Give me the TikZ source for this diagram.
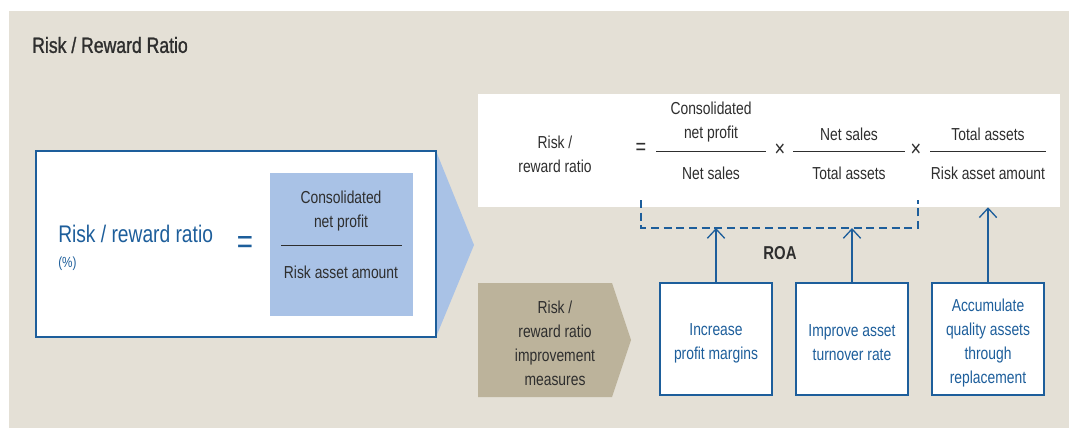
\documentclass[tikz,border=0pt]{standalone}
\usepackage{fontspec}
\setmainfont{Liberation Sans}[FakeStretch=0.8]
\usepackage{tikz}
\usetikzlibrary{arrows.meta}
\definecolor{bgbeige}{HTML}{E4E0D6}
\definecolor{ratioblue}{HTML}{1D5E9B}
\definecolor{paleblue}{HTML}{A9C2E6}
\definecolor{khaki}{HTML}{BCB39B}
\definecolor{inkgray}{HTML}{2E2E2E}
\tikzset{
	txt/.style={text=inkgray, font=\fontsize{13}{18}\selectfont, align=center, inner sep=0pt},
	bluetxt/.style={txt, text=ratioblue},
	measure/.style={draw=ratioblue, line width=1.2pt, fill=white, minimum width=84pt, minimum height=84pt},
	fracline/.style={inkgray, line width=0.7pt},
	opsign/.style={txt, font=\fontsize{17}{18}\selectfont},
	uparrow/.style={ratioblue, line width=1pt, -{Straight Barb[width=13pt,length=7pt]}}
}
\begin{document}
\begin{tikzpicture}[x=0.75pt,y=-0.75pt]
			\useasboundingbox (0,0) rectangle (1069,428);
			\fill[bgbeige] (9,11) rectangle (1069,428);
			\node[txt, anchor=west, font=\addfontfeature{FakeBold=1.2}\fontsize{16.5}{20}\selectfont] (title) at (32,45) {Risk / Reward Ratio};
			% left formula box with pointer
			\fill[paleblue] (420,151) -- (436,151) -- (474,245) -- (436,337) -- (420,337) -- cycle;
			\draw[ratioblue, line width=1.5pt, fill=white] (36,151) rectangle (436,337);
			\fill[paleblue] (270,173) rectangle (413,316);
			\node[bluetxt, anchor=west, font=\fontsize{18}{20}\selectfont] (lhs) at (58,234) {Risk / reward ratio};
			\node[bluetxt, anchor=west, font=\fontsize{11}{12}\selectfont] (pct) at (58,264) {(\%)};
			\node[bluetxt, font=\fontsize{26}{26}\selectfont] (eqleft) at (245,245) {=};
			\node[txt] (numleft) at (341,211) {Consolidated\\net profit};
			\node[txt] (denleft) at (341,272) {Risk asset amount};
			\draw[fracline] (281,245) -- (402,245);
			% decomposition
			\node[fill=white, minimum width=436.5pt, minimum height=84.75pt, inner sep=0pt] (formula) at (769,150.5) {};
			\node[txt] (rr) at (555,154) {Risk /\\reward ratio};
			\node[opsign] (eqtop) at (641,149) {=};
			\node[txt] (numa) at (711,122) {Consolidated\\net profit};
			\node[txt] (dena) at (711,173) {Net sales};
			\draw[fracline] (656,151) -- (766,151);
			\node[opsign] (timesa) at (780,150) {×};
			\node[txt] (numb) at (849,134) {Net sales};
			\node[txt] (denb) at (849,173) {Total assets};
			\draw[fracline] (793,151) -- (905,151);
			\node[opsign] (timesb) at (916,150) {×};
			\node[txt] (numc) at (988,134) {Total assets};
			\node[txt] (denc) at (988,173) {Risk asset amount};
			\draw[fracline] (930,151) -- (1046,151);
			\coordinate (roal) at (641,200);
			\coordinate (roar) at (918,200);
			\coordinate (roabase) at (641,228);
			\draw[ratioblue, line width=1pt, dash pattern=on 6pt off 3.5pt] (roal) -- (roal |- roabase) -- (roar |- roabase) -- (roar);
			\node[txt, font=\bfseries\fontsize{14}{16}\selectfont] (roa) at (780,253) {ROA};
			% improvement measures
			\fill[khaki] (478,283) -- (612,283) -- (631,340) -- (612,397) -- (478,397) -- cycle;
			\node[txt] (measures) at (555,343) {Risk /\\reward ratio\\improvement\\measures};
			\node[measure] (margin) at (716,339) {};
			\node[measure] (turnover) at (852,339) {};
			\node[measure] (quality) at (988,339) {};
			\node[bluetxt] (margintxt) at (716,343) {Increase\\profit margins};
			\node[bluetxt] (turnovertxt) at (852,343) {Improve asset\\turnover rate};
			\node[bluetxt] (qualitytxt) at (988,343) {Accumulate\\quality assets\\through\\replacement};
			\draw[uparrow] (margin.north) -- (margin.north |- roabase);
			\draw[uparrow] (turnover.north) -- (turnover.north |- roabase);
			\draw[uparrow] (quality.north) -- (quality.north |- formula.south);
		\end{tikzpicture}
\end{document}
